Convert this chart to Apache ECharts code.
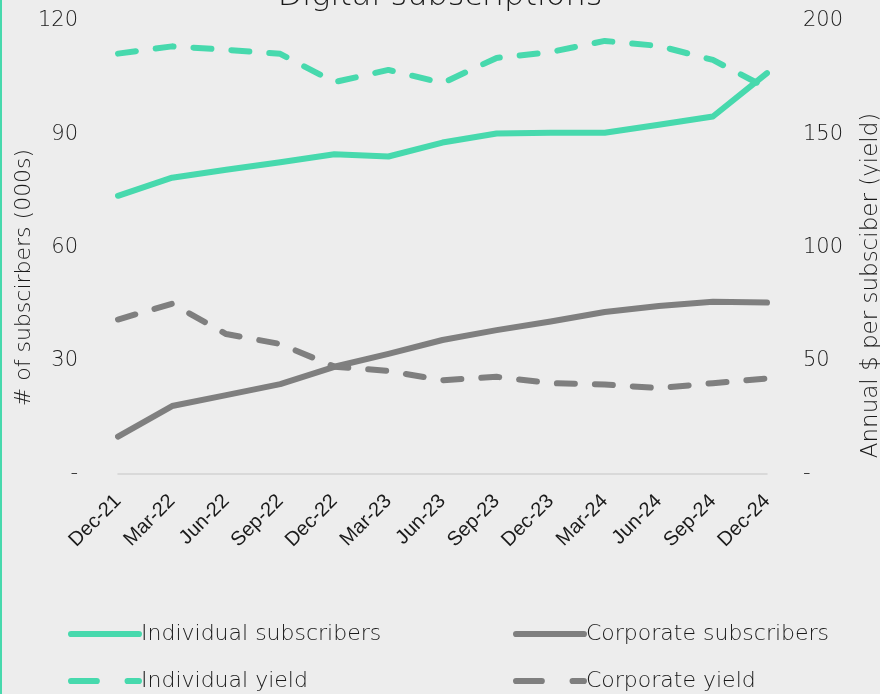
<!DOCTYPE html>
<html>
<head>
<meta charset="utf-8">
<script src="https://cdn.jsdelivr.net/npm/echarts@6/dist/echarts.min.js"></script>
<style>
html,body{margin:0;padding:0;background:#ededed;}
#c{width:880px;height:694px;}
</style>
</head>
<body>
<div id="c"></div>
<script>
const categories = ['Dec-21','Mar-22','Jun-22','Sep-22','Dec-22','Mar-23','Jun-23','Sep-23','Dec-23','Mar-24','Jun-24','Sep-24','Dec-24'];
const individualSubscribers = [73.7, 78.5, 80.6, 82.6, 84.7, 84.1, 87.8, 90.2, 90.4, 90.4, 92.5, 94.7, 106.2];
const corporateSubscribers = [9.9, 18.0, 20.9, 23.8, 28.4, 31.8, 35.5, 38.1, 40.4, 42.9, 44.5, 45.6, 45.4];
const individualYield = [185.6, 188.8, 187.3, 185.5, 173.0, 178.4, 172.6, 183.7, 186.3, 191.2, 189.0, 182.8, 170.4];
const corporateYield = [68.2, 75.2, 61.8, 57.4, 47.4, 45.5, 41.4, 42.9, 40.1, 39.5, 37.9, 40.1, 42.2];
const leftTicks = [0, 30, 60, 90, 120];
const rightTicks = [0, 50, 100, 150, 200];

const green = '#47d9ad';
const grey = '#7f7f7f';
const FONT = 'DejaVu Sans';
const FW = 200;
const chart = echarts.init(document.getElementById('c'));

const solidIcon = 'path://M3,0 H69 A3,3 0 0 1 69,6 H3 A3,3 0 0 1 3,0 Z';
const dashIcon = 'path://M3,0 H28 A3,3 0 0 1 28,6 H3 A3,3 0 0 1 3,0 Z M58,0 H69 A3,3 0 0 1 69,6 H58 A3,3 0 0 1 58,0 Z';

function legendAt(name, icon, left, top) {
  return {
    data: [{ name: name, icon: icon }], left: left, top: top, itemWidth: 74, itemHeight: 7, itemGap: 0,
    textStyle: { fontFamily: FONT, fontWeight: FW, fontSize: 22, color: '#1a1a1a', padding: [0,0,0,-6] },
    selectedMode: false
  };
}

chart.setOption({
  backgroundColor: '#ededed',
  animation: false,
  title: {
    text: 'Digital subscriptions', left: 'center', top: -24,
    textStyle: { fontFamily: FONT, fontWeight: FW, fontSize: 32, color: '#1a1a1a' }
  },
  graphic: [{ type: 'rect', shape: { x: 0, y: 0, width: 2, height: 694 }, style: { fill: green } }],
  legend: [
    legendAt('Individual subscribers', solidIcon, 63, 618),
    legendAt('Corporate subscribers', solidIcon, 508, 618),
    legendAt('Individual yield', dashIcon, 63, 665),
    legendAt('Corporate yield', dashIcon, 508, 665)
  ],
  grid: { left: 118, right: 113, top: 21, bottom: 220, containLabel: false, outerBoundsMode: 'none' },
  xAxis: {
    type: 'category', data: categories, boundaryGap: false,
    axisLine: { lineStyle: { color: '#d2d2d2', width: 1.5 } },
    axisTick: { show: false },
    axisLabel: { rotate: 45, fontFamily: 'Liberation Sans', fontSize: 20, color: '#1a1a1a', margin: 24, interval: 0 }
  },
  yAxis: [
    {
      type: 'value', min: leftTicks[0], max: leftTicks[leftTicks.length-1], interval: 30,
      name: '# of subscirbers (000s)', nameLocation: 'middle', nameGap: 83, nameRotate: 90, nameMoveOverlap: false,
      nameTextStyle: { fontFamily: FONT, fontWeight: FW, fontSize: 22, color: '#1a1a1a', padding: [0, 60, 0, 0] },
      axisLine: { show: false }, axisTick: { show: false }, splitLine: { show: false },
      axisLabel: { fontFamily: FONT, fontWeight: FW, fontSize: 21, color: '#1a1a1a', margin: 40,
        formatter: v => v === 0 ? '-' : String(v) }
    },
    {
      type: 'value', min: rightTicks[0], max: rightTicks[rightTicks.length-1], interval: 50,
      name: 'Annual $ per subsciber (yield)', nameLocation: 'middle', nameGap: 93, nameRotate: 90,
      nameTextStyle: { fontFamily: FONT, fontWeight: FW, fontSize: 23, color: '#1a1a1a', padding: [0, 76, 0, 0] },
      axisLine: { show: false }, axisTick: { show: false }, splitLine: { show: false },
      axisLabel: { fontFamily: FONT, fontWeight: FW, fontSize: 21, color: '#1a1a1a', margin: 36,
        formatter: v => v === 0 ? '-' : String(v) }
    }
  ],
  series: [
    { name: 'Individual subscribers', type: 'line', yAxisIndex: 0, data: individualSubscribers,
      symbol: 'none', color: green, lineStyle: { color: green, width: 6, cap: 'round', join: 'round' } },
    { name: 'Corporate subscribers', type: 'line', yAxisIndex: 0, data: corporateSubscribers,
      symbol: 'none', color: grey, lineStyle: { color: grey, width: 6, cap: 'round', join: 'round' } },
    { name: 'Individual yield', type: 'line', yAxisIndex: 1, data: individualYield,
      symbol: 'none', color: green, lineStyle: { color: green, width: 6, type: [18, 20], cap: 'round', join: 'round' } },
    { name: 'Corporate yield', type: 'line', yAxisIndex: 1, data: corporateYield,
      symbol: 'none', color: grey, lineStyle: { color: grey, width: 6, type: [18, 20], cap: 'round', join: 'round' } }
  ]
});
</script>
</body>
</html>
